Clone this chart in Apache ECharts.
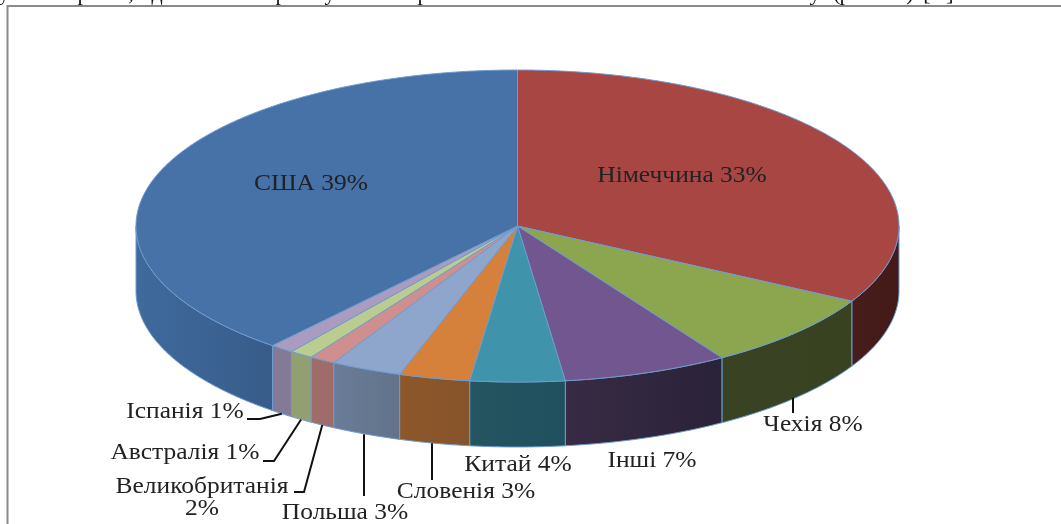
<!DOCTYPE html>
<html>
<head>
<meta charset="utf-8">
<script src="https://cdn.jsdelivr.net/npm/echarts@6/dist/echarts.min.js"></script>
<style>html,body{margin:0;padding:0;background:#fff;overflow:hidden}#c{width:1061px;height:524px}</style>
</head>
<body>
<div id="c"></div>
<script>
// Data: clockwise from 12 o'clock
const countries = ['Німеччина','Чехія','Інші','Китай','Словенія','Польша','Великобританія','Австралія','Іспанія','США'];
const shares = [33, 8, 7, 4, 3, 3, 1.1, 1, 1, 38.9];
const labelPercents = [33, 8, 7, 4, 3, 3, 2, 1, 1, 39];

const topColors = ['#a84644','#8ba64f','#72568f','#3f93ab','#d6813b','#8fa6cc','#cf8f8e','#bacc90','#a99cc0','#4672a8'];
const sideColors = [
  ['#471d1b','#431a18'],['#394222','#384120'],['#382b45','#2a2238'],['#245561','#20505d'],['#8d5729','#87532a'],
  ['#6a7c98','#62728a'],['#9f6c6b','#9f6c6b'],['#929f72','#929f72'],['#847a95','#847a95'],['#3f6a9c','#375c8a']
];
// label centre in px, optional leader elbow in px, leader end in px
const labelLayout = [
  {c:[682,176]},
  {c:[813,425], end:[793,413]},
  {c:[652,461]},
  {c:[518,465]},
  {c:[466,492], end:[432,480]},
  {c:[345,513], end:[364,496]},
  {c:[202,498], elbow:[304,492], end:[294,492], wrap:true},
  {c:[185,453], elbow:[274,461], end:[263,461]},
  {c:[185,412], elbow:[260,419], end:[247,419]},
  {c:[311,184]}
];
const clippedGlyphs = [['у',4],['р',83],[',',131],['д',157],['р',281],['у',330],['р',423],['у',815],['(',837],['р',845],[')',910],['[',927],[']',950]];

const DEPTH = 65 / 156;      // rim depth in y-axis units
const SERIF = '"Liberation Serif", serif';
const total = shares.reduce((a, b) => a + b, 0);
const starts = [];
shares.reduce((acc, v, i) => { starts[i] = acc; return acc + v; }, 0);
const rad = v => v / total * Math.PI * 2;

function arc(api, a1, a2, dy) {
  const n = Math.max(2, Math.ceil((a2 - a1) / 0.01));
  const pts = [];
  for (let k = 0; k <= n; k++) {
    const a = a1 + (a2 - a1) * k / n;
    pts.push(api.coord([Math.sin(a), Math.cos(a) - dy]));
  }
  return pts;
}

function renderItem(params, api) {
  const i = params.dataIndex;
  const a1 = rad(starts[i]), a2 = rad(starts[i] + api.value(1));
  const children = [];
  const stroke = {stroke: '#6f9bd0', lineWidth: 1};
  // front wall
  const s1 = Math.max(a1, Math.PI / 2), s2 = Math.min(a2, Math.PI * 1.5);
  if (s2 > s1) {
    const upper = arc(api, s1, s2, 0), lower = arc(api, s1, s2, DEPTH).reverse();
    children.push({
      type: 'polygon',
      shape: {points: upper.concat(lower)},
      style: Object.assign({
        fill: new echarts.graphic.LinearGradient(0, 0, 1, 0, [
          {offset: 0, color: sideColors[i][0]}, {offset: 1, color: sideColors[i][1]}
        ])
      }, stroke)
    });
  }
  // top face
  const centre = api.coord([0, 0]);
  children.push({
    type: 'polygon',
    shape: {points: [centre].concat(arc(api, a1, a2, 0))},
    style: Object.assign({fill: topColors[i]}, stroke)
  });
  // leader + label
  const lay = labelLayout[i];
  const mid = (a1 + a2) / 2;
  if (lay.end) {
    const p0 = api.coord([Math.sin(mid), Math.cos(mid) - DEPTH]);
    const pts = lay.elbow ? [p0, lay.elbow, lay.end] : [[lay.end[0], p0[1]], lay.end];
    children.push({type: 'polyline', shape: {points: pts}, style: {fill: 'none', stroke: '#111', lineWidth: 2}});
  }
  const sep = lay.wrap ? '\n' : ' ';
  children.push({
    type: 'text',
    x: lay.c[0], y: lay.c[1], scaleX: 1.107,
    style: {
      text: countries[i] + sep + labelPercents[i] + '%',
      fill: '#222', font: '23px ' + SERIF,
      align: 'center', verticalAlign: 'middle', lineHeight: 22
    }
  });
  return {type: 'group', children: children};
}

const chart = echarts.init(document.getElementById('c'), null, {renderer: 'canvas'});
chart.setOption({
  animation: false,
  backgroundColor: '#fff',
  grid: {left: 136, width: 763, top: 70, height: 312},
  xAxis: {type: 'value', min: -1, max: 1, show: false},
  yAxis: {type: 'value', min: -1, max: 1, show: false},
  tooltip: {show: false},
  graphic: [
    {type: 'polyline', silent: true, shape: {points: [[7.5, 530], [7.5, 6], [1070, 6]]}, style: {fill: 'none', stroke: '#8a8a8a', lineWidth: 2}}
  ].concat(clippedGlyphs.map(g => ({
    type: 'text', silent: true, x: g[1], y: 5,
    style: {text: g[0], font: '22px ' + SERIF, fill: '#111', align: 'center', verticalAlign: 'bottom'}
  }))),
  series: [{
    type: 'custom',
    coordinateSystem: 'cartesian2d',
    clip: false,
    silent: true,
    data: shares.map((v, i) => [i, v]),
    renderItem: renderItem
  }]
});
</script>
</body>
</html>
